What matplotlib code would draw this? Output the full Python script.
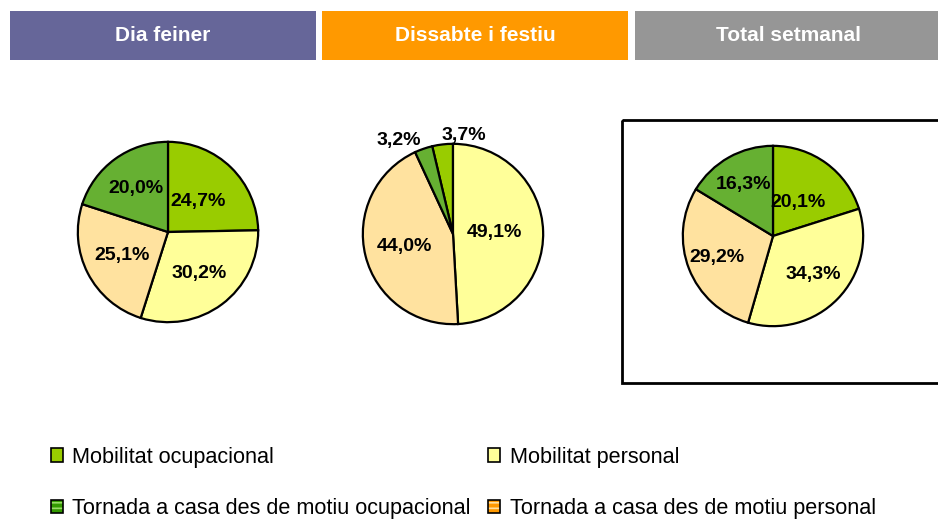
import numpy as np
import matplotlib.pyplot as plt
from matplotlib.patches import Rectangle, Patch
from matplotlib.legend_handler import HandlerTuple

plt.rcParams['font.family'] = ['Liberation Sans', 'DejaVu Sans']
plt.rcParams['hatch.linewidth'] = 1.2

# data -------------------------------------------------------------
panel_titles = ["Dia feiner", "Dissabte i festiu", "Total setmanal"]
categories = [
    "Mobilitat ocupacional",
    "Mobilitat personal",
    "Tornada a casa des de motiu personal",
    "Tornada a casa des de motiu ocupacional",
]
dia_feiner = [24.7, 30.2, 25.1, 20.0]
dissabte_festiu = [3.7, 49.1, 44.0, 3.2]
total_setmanal = [20.1, 34.3, 29.2, 16.3]

# style ------------------------------------------------------------
slice_colors = ["#99CC00", "#FFFF99", "#FFE29F", "#66B032"]
header_colors = ["#666699", "#FF9900", "#969696"]
W, H = 938, 520

fig = plt.figure(figsize=(W / 100, H / 100), dpi=100)

# background axes in pixel units for headers and the frame
bg = fig.add_axes([0, 0, 1, 1])
bg.set_xlim(0, W)
bg.set_ylim(H, 0)
bg.axis("off")

header_x = [10, 322, 635]
header_w = [306, 306, 310]
for x0, w, title, col in zip(header_x, header_w, panel_titles, header_colors):
    bg.add_patch(Rectangle((x0, 11), w, 49, facecolor=col, edgecolor="none"))
    bg.text(x0 + 153, 35.5, title, color="white", fontsize=15, fontweight="bold",
            ha="center", va="center")

# frame around the weekly total
bg.add_patch(Rectangle((622, 120), 330, 263, facecolor="none",
                       edgecolor="black", linewidth=2, clip_on=True))


def fmt(v):
    return f"{v:.1f}".replace(".", ",") + "%"


def draw_pie(cx, cy, values, startangle, label_r, outside=None):
    size = 220
    ax = fig.add_axes([(cx - size / 2) / W, (H - cy - size / 2) / H, size / W, size / H])
    wedges, _ = ax.pie(values, colors=slice_colors, startangle=startangle,
                       counterclock=False, radius=1,
                       wedgeprops=dict(edgecolor="black", linewidth=1.6))
    outside = outside or {}
    for i, (w, v) in enumerate(zip(wedges, values)):
        mid = np.deg2rad((w.theta1 + w.theta2) / 2)
        if i in outside:
            r, ha = 1.1, outside[i]
        else:
            r, ha = label_r[i], "center"
        ax.text(r * np.cos(mid), r * np.sin(mid), fmt(v), ha=ha, va="center",
                fontsize=14, fontweight="bold", color="black")
    ax.set_xlim(-1.22, 1.22)
    ax.set_ylim(-1.22, 1.22)
    ax.set_aspect("equal")
    ax.axis("off")


draw_pie(168, 232, dia_feiner, 90, [0.48, 0.58, 0.57, 0.6])
draw_pie(453, 234, dissabte_festiu, 90 + dissabte_festiu[0] * 3.6,
         [0, 0.46, 0.55, 0], outside={0: "left", 3: "right"})
draw_pie(773, 236, total_setmanal, 90, [0.46, 0.62, 0.67, 0.66])

# legend -----------------------------------------------------------
def plain(c):
    return Patch(facecolor=c, edgecolor="black", linewidth=1.2)


def striped(base, stripe):
    return (Patch(facecolor=base, edgecolor=stripe, hatch="---", linewidth=0),
            Patch(facecolor="none", edgecolor="black", linewidth=1.2))


handles = [plain(slice_colors[0]), striped("#339900", "#99DD66"),
           plain(slice_colors[1]), striped("#FF9900", "#FFE0A0")]
labels = [categories[0], categories[3], categories[1], categories[2]]

fig.legend(handles, labels, ncol=2, loc="upper left",
           bbox_to_anchor=(40 / W, 1 - 436 / H), frameon=False,
           fontsize=15.6, borderpad=0, handlelength=0.58, handleheight=0.58,
           handletextpad=0.42, columnspacing=0.78, labelspacing=1.4,
           handler_map={tuple: HandlerTuple(ndivide=1, pad=0)})

fig.savefig("out.png", dpi=100)
